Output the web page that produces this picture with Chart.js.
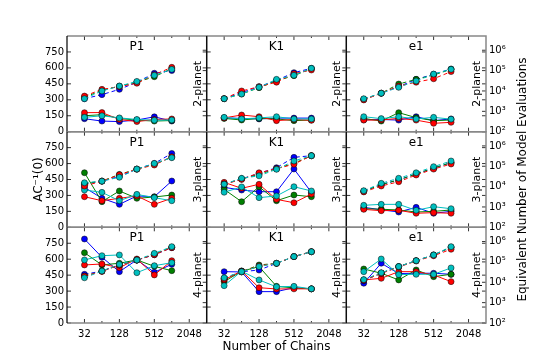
<!DOCTYPE html>
<html>
<head>
<meta charset="utf-8">
<script src="https://cdn.jsdelivr.net/npm/chart.js@4.4.0/dist/chart.umd.min.js"></script>
<style>
body { margin: 0; background: #fff; }
#wrap { position: relative; width: 540px; height: 360px; }
#wrap canvas { position: absolute; left: 0; top: 0; }
</style>
</head>
<body>
<div id="wrap"></div>
<script>
// number of chains on the x axis
var chains = [32, 64, 128, 256, 512, 1024];
var chainTicks = [32, 128, 512, 2048];
var chainMinor = [64, 256, 1024];
var acTicks = [0, 150, 300, 450, 600, 750];
var evalTicks = [1e2, 1e3, 1e4, 1e5, 1e6];
var colTitles = ['P1', 'K1', 'e1'];
var rowLabels = ['2-planet', '3-planet', '4-planet'];
var seriesColors = ['#0000ff', '#008000', '#ff0000', '#00bfbf']; // b, g, r, c

// AC^-1(0) (solid lines, left axis) - rows: blue, green, red, cyan
var acP1_2pl = [[122, 100, 95, 110, 140, 100], [150, 160, 125, 108, 100, 105], [179, 180, 115, 95, 115, 120], [135, 150, 130, 115, 108, 110]];
var acK1_2pl = [[130, 125, 120, 128, 128, 128], [125, 110, 125, 120, 104, 110], [130, 157, 141, 104, 115, 107], [135, 120, 130, 141, 120, 120]];
var acE1_2pl = [[112, 115, 109, 141, 104, 120], [125, 100, 179, 132, 104, 110], [109, 110, 125, 109, 79, 88], [141, 123, 141, 120, 135, 118]];
var acP1_3pl = [[376, 273, 216, 295, 288, 436], [514, 241, 342, 273, 285, 304], [288, 250, 273, 295, 216, 273], [351, 329, 250, 310, 279, 250]];
var acK1_3pl = [[376, 351, 335, 335, 549, 329], [357, 241, 382, 250, 304, 288], [423, 367, 405, 263, 231, 313], [330, 380, 279, 295, 382, 342]];
var acE1_3pl = [[188, 165, 144, 188, 132, 150], [175, 170, 163, 144, 150, 163], [169, 156, 160, 132, 138, 132], [207, 216, 216, 160, 194, 175]];
var acP1_4pl = [[790, 618, 483, 593, 477, 552], [661, 546, 562, 593, 533, 492], [546, 555, 520, 602, 452, 586], [593, 633, 640, 473, 539, 567]];
var acK1_4pl = [[483, 480, 295, 295, 332, 321], [389, 487, 530, 345, 330, 321], [405, 490, 332, 320, 321, 321], [351, 487, 405, 340, 345, 321]];
var acE1_4pl = [[374, 562, 465, 468, 468, 458], [508, 468, 405, 499, 436, 458], [405, 420, 483, 483, 452, 389], [483, 602, 455, 458, 458, 518]];

// equivalent number of model evaluations (dashed lines, right log axis)
var evP1_2pl = [[4170, 6610, 12000, 26900, 74100, 100000], [4900, 10700, 17400, 26900, 50100, 126000], [5620, 12000, 16200, 24000, 63100, 145000], [4170, 10000, 17400, 29500, 58900, 115000]];
var evK1_2pl = [[4170, 8320, 16200, 33100, 79400, 129000], [4170, 7080, 14500, 31600, 56200, 126000], [4170, 10000, 16200, 26900, 70800, 107000], [4170, 7080, 15100, 37200, 58900, 129000]];
var evE1_2pl = [[3890, 7760, 16200, 37200, 66100, 120000], [3890, 7760, 21900, 37200, 60300, 117000], [3630, 7760, 17400, 26900, 39800, 89100], [4170, 7760, 15100, 30900, 67600, 115000]];
var evP1_3pl = [[13200, 18600, 31600, 72400, 138000, 427000], [14100, 18600, 39800, 72400, 126000, 282000], [10700, 18600, 38000, 72400, 115000, 295000], [15500, 18600, 28800, 72400, 138000, 263000]];
var evK1_3pl = [[13200, 24000, 44700, 85100, 275000, 331000], [13200, 24000, 39800, 75900, 141000, 331000], [13200, 22400, 47900, 75900, 126000, 331000], [13200, 25700, 33900, 70800, 182000, 331000]];
var evE1_3pl = [[5890, 12600, 21400, 41700, 79400, 151000], [5890, 12600, 21400, 41700, 83200, 151000], [5500, 10700, 17400, 37200, 72400, 129000], [6310, 14500, 25700, 47900, 95500, 182000]];
var evP1_4pl = [[24500, 35500, 70800, 123000, 224000, 501000], [20000, 35500, 70800, 123000, 240000, 525000], [20000, 33900, 70800, 123000, 224000, 501000], [16600, 35500, 75900, 123000, 263000, 562000]];
var evK1_4pl = [[15500, 33100, 39800, 85100, 182000, 316000], [15500, 33100, 70800, 85100, 182000, 316000], [14100, 33100, 63100, 85100, 182000, 316000], [16600, 33100, 58900, 85100, 182000, 316000]];
var evE1_4pl = [[12000, 28200, 58900, 115000, 219000, 525000], [12600, 28200, 58900, 115000, 219000, 525000], [12600, 26900, 56200, 110000, 200000, 417000], [13500, 29500, 58900, 115000, 219000, 562000]];

var acGrid = [[acP1_2pl, acK1_2pl, acE1_2pl], [acP1_3pl, acK1_3pl, acE1_3pl], [acP1_4pl, acK1_4pl, acE1_4pl]];
var evGrid = [[evP1_2pl, evK1_2pl, evE1_2pl], [evP1_3pl, evK1_3pl, evE1_3pl], [evP1_4pl, evK1_4pl, evE1_4pl]];

var FONT = 'DejaVu Sans';
var colX = [67, 206.7, 346.3, 486];
var rowY = [36, 131.7, 227.3, 323];
var sup = { 2: '\u00b2', 3: '\u00b3', 4: '\u2074', 5: '\u2075', 6: '\u2076' };

function toPoints(vals) {
    return vals.map(function (v, i) { return { x: chains[i], y: v }; });
}

var panelDeco = {
    id: 'panelDeco',
    afterLayout: function (chart) {
        // axes were squeezed to zero size so the plot area sits exactly where we want;
        // widen their boxes again so the tick labels are not clipped away
        var s = chart.scales;
        s.y.left = s.y.right - 70;
        s.y2.right = s.y2.left + 70;
        s.x.bottom = s.x.top + 30;
    },
    afterDraw: function (chart, args, opts) {
        var ctx = chart.ctx, a = chart.chartArea;
        var sx = chart.scales.x, sy = chart.scales.y, sy2 = chart.scales.y2;
        ctx.save();
        // inward ticks
        ctx.strokeStyle = '#000';
        ctx.lineWidth = 0.8;
        ctx.beginPath();
        chainTicks.concat(chainMinor).forEach(function (v) {
            var len = chainTicks.indexOf(v) >= 0 ? 4 : 2;
            var px = sx.getPixelForValue(v);
            ctx.moveTo(px, a.bottom); ctx.lineTo(px, a.bottom - len);
            ctx.moveTo(px, a.top); ctx.lineTo(px, a.top + len);
        });
        acTicks.forEach(function (v) {
            var py = sy.getPixelForValue(v);
            ctx.moveTo(a.left, py); ctx.lineTo(a.left + 4, py);
            ctx.moveTo(a.right, py); ctx.lineTo(a.right - 4, py);
        });
        evalTicks.forEach(function (v) {
            var py = sy2.getPixelForValue(v);
            ctx.moveTo(a.right, py); ctx.lineTo(a.right - 4, py);
        });
        ctx.stroke();
        // frame
        ctx.strokeStyle = '#888';
        ctx.lineWidth = 1.5;
        ctx.beginPath();
        ctx.moveTo(a.left, a.top); ctx.lineTo(a.right, a.top);
        ctx.lineTo(a.right, a.bottom); ctx.lineTo(a.left, a.bottom);
        ctx.stroke();
        ctx.strokeStyle = '#000';
        ctx.lineWidth = 1.2;
        ctx.beginPath();
        ctx.moveTo(a.left, a.top); ctx.lineTo(a.left, a.bottom);
        ctx.stroke();
        // panel title and row label
        ctx.fillStyle = '#000';
        ctx.textAlign = 'center';
        ctx.textBaseline = 'middle';
        ctx.font = '12px "' + FONT + '"';
        ctx.fillText(colTitles[opts.col], (a.left + a.right) / 2, a.top + 11);
        ctx.save();
        ctx.translate(a.right - 9, (a.top + a.bottom) / 2);
        ctx.rotate(-Math.PI / 2);
        ctx.font = '11px "' + FONT + '"';
        ctx.fillText(rowLabels[opts.row], 0, 0);
        ctx.restore();
        // shared axis titles
        ctx.font = '12px "' + FONT + '"';
        if (opts.row === 1 && opts.col === 0) {
            ctx.save();
            ctx.translate(39, (rowY[0] + rowY[3]) / 2);
            ctx.rotate(-Math.PI / 2);
            ctx.fillText('AC\u207b\u00b9(0)', 0, 0);
            ctx.restore();
        }
        if (opts.row === 1 && opts.col === 2) {
            ctx.save();
            ctx.translate(523, (rowY[0] + rowY[3]) / 2);
            ctx.rotate(-Math.PI / 2);
            ctx.fillText('Equivalent Number of Model Evaluations', 0, 0);
            ctx.restore();
        }
        if (opts.row === 2 && opts.col === 1) {
            ctx.fillText('Number of Chains', (a.left + a.right) / 2, 347);
        }
        ctx.restore();
    }
};

function makePanel(r, c) {
    var canvas = document.createElement('canvas');
    canvas.width = 540;
    canvas.height = 360;
    document.getElementById('wrap').appendChild(canvas);

    var sets = [];
    for (var i = 0; i < 4; i++) {
        sets.push({
            data: toPoints(acGrid[r][c][i]), yAxisID: 'y',
            borderColor: seriesColors[i], borderWidth: 1,
            pointBackgroundColor: seriesColors[i], pointBorderColor: '#000',
            pointBorderWidth: 0.5, pointRadius: 3, tension: 0
        });
    }
    for (var i = 0; i < 4; i++) {
        sets.push({
            data: toPoints(evGrid[r][c][i]), yAxisID: 'y2',
            borderColor: seriesColors[i], borderWidth: 1, borderDash: [4, 3],
            pointBackgroundColor: seriesColors[i], pointBorderColor: '#000',
            pointBorderWidth: 0.5, pointRadius: 3, tension: 0
        });
    }
    sets.reverse(); // chart.js paints the first dataset on top

    var tickFont = { family: FONT, size: 10 };
    new Chart(canvas, {
        type: 'line',
        data: { datasets: sets },
        options: {
            responsive: false,
            animation: false,
            layout: { padding: { left: colX[c], right: 540 - colX[c + 1], top: rowY[r], bottom: 360 - rowY[r + 1] } },
            plugins: { legend: { display: false }, tooltip: { enabled: false }, panelDeco: { row: r, col: c } },
            scales: {
                x: {
                    type: 'logarithmic', min: 16, max: 4096,
                    grid: { display: false, drawTicks: false }, border: { display: false },
                    afterBuildTicks: function (s) { s.ticks = chainTicks.map(function (v) { return { value: v }; }); },
                    afterFit: function (s) { s.height = 0; s.paddingLeft = 0; s.paddingRight = 0; },
                    ticks: { display: r === 2, font: tickFont, color: '#000', padding: 5, maxRotation: 0, autoSkip: false,
                        callback: function (v) { return String(v); } }
                },
                y: {
                    type: 'linear', position: 'left', min: 0, max: 900,
                    grid: { display: false, drawTicks: false }, border: { display: false },
                    afterBuildTicks: function (s) { s.ticks = acTicks.map(function (v) { return { value: v }; }); },
                    afterFit: function (s) { s.width = 0; s.paddingTop = 0; s.paddingBottom = 0; },
                    ticks: { display: c === 0, font: tickFont, color: '#000', padding: 3 }
                },
                y2: {
                    type: 'logarithmic', position: 'right', min: 100, max: 5.0e6,
                    grid: { display: false, drawTicks: false }, border: { display: false },
                    afterBuildTicks: function (s) { s.ticks = evalTicks.map(function (v) { return { value: v }; }); },
                    afterFit: function (s) { s.width = 0; s.paddingTop = 0; s.paddingBottom = 0; },
                    ticks: { display: c === 2, font: tickFont, color: '#000', padding: 3,
                        callback: function (v) { return '10' + sup[Math.round(Math.log10(v))]; } }
                }
            }
        },
        plugins: [panelDeco]
    });
}

for (var r = 0; r < 3; r++) {
    for (var c = 0; c < 3; c++) {
        makePanel(r, c);
    }
}
</script>
</body>
</html>
